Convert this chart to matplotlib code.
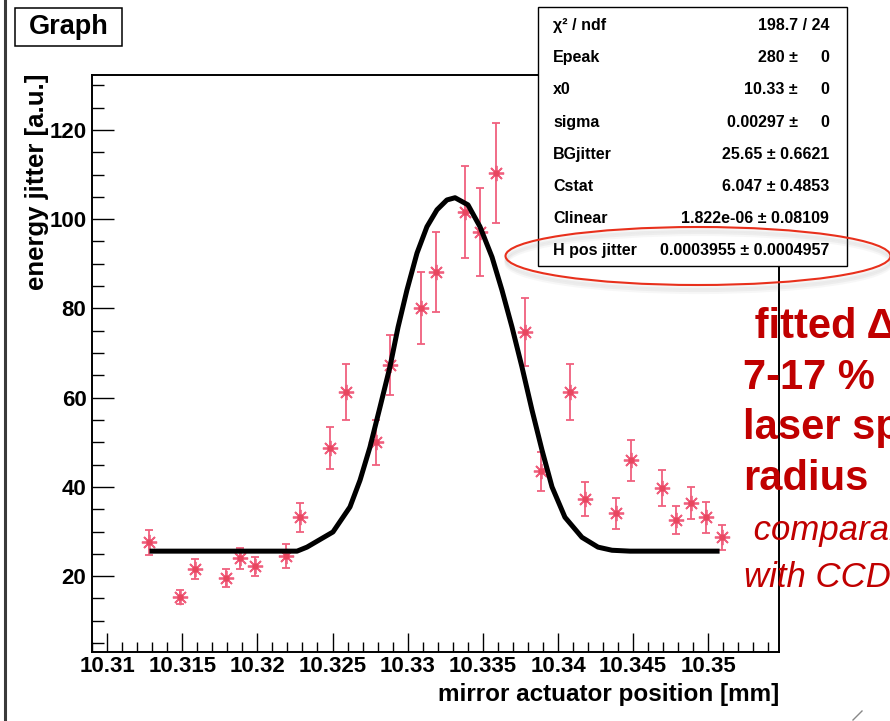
import matplotlib
matplotlib.use("Agg")
import matplotlib.pyplot as plt
from matplotlib.patches import Ellipse, Rectangle
from matplotlib.lines import Line2D
from matplotlib.ticker import FixedLocator, MultipleLocator

plt.rcParams['font.family'] = ['Liberation Sans', 'DejaVu Sans']
plt.rcParams['font.weight'] = 'bold'

# measured points: mirror position [mm], energy jitter [a.u.] and its error
pos_mm = [10.31279, 10.31485, 10.31585, 10.31791, 10.31885, 10.31984, 10.32191,
          10.32284, 10.32483, 10.32590, 10.32789, 10.32882, 10.33089, 10.33188,
          10.33381, 10.33481, 10.33587, 10.33780, 10.33887, 10.34080, 10.34180,
          10.34386, 10.34485, 10.34692, 10.34785, 10.34885, 10.34984, 10.35091]
jitter = [27.6, 15.3, 21.6, 19.6, 24.0, 22.2, 24.5, 33.2, 48.7, 61.3, 50.0, 67.3,
          80.1, 88.2, 101.6, 97.1, 110.4, 74.7, 43.5, 61.3, 37.3, 34.1, 46.0, 39.7,
          32.6, 36.4, 33.2, 28.7]
jitter_err = [2.8, 1.5, 2.3, 2.0, 2.4, 2.2, 2.6, 3.2, 4.7, 6.2, 5.0, 6.7, 8.0, 9.0,
              10.3, 9.8, 11.2, 7.6, 4.4, 6.2, 3.8, 3.5, 4.6, 4.0, 3.2, 3.6, 3.5, 2.8]

# fitted curve
fit_pos = [10.31299, 10.32264, 10.32330, 10.32503, 10.32616, 10.32683, 10.32749,
           10.32816, 10.32882, 10.32936, 10.32995, 10.33062, 10.33128, 10.33195,
           10.33261, 10.33315, 10.33401, 10.33481, 10.33561, 10.33627, 10.33694,
           10.33760, 10.33827, 10.33893, 10.33960, 10.34046, 10.34159, 10.34266,
           10.34359, 10.34479, 10.35058]
fit_jitter = [25.6, 25.6, 26.5, 29.9, 35.5, 41.5, 48.9, 57.9, 66.9, 75.8, 84.1, 92.4,
              98.3, 102.1, 104.3, 104.8, 103.2, 98.3, 91.5, 84.1, 75.8, 66.9, 57.2,
              48.3, 40.0, 33.2, 28.7, 26.5, 25.8, 25.6, 25.6]

x_ticks = [10.31, 10.315, 10.32, 10.325, 10.33, 10.335, 10.34, 10.345, 10.35]

# fit statistics box
stat_names = ['χ² / ndf', 'Epeak', 'x0', 'sigma', 'BGjitter', 'Cstat', 'Clinear', 'H pos jitter']
stat_values = ['198.7 / 24', '280', '10.33', '0.00297', '25.65', '6.047', '1.822e-06', '0.0003955']
stat_errors = [None, '0', '0', '0', '0.6621', '0.4853', '0.08109', '0.0004957']

# slide notes (cut by the right edge, as on the slide)
note_bold = [' fitted Δ', '7-17 %', 'laser spot', 'radius']
note_italic = [' comparable', 'with CCD']

W, H = 890, 721
pink = '#f0607e'
darkred = '#c00000'


def fx(x):
    return x / W


def fy(y):
    return 1 - y / H


fig = plt.figure(figsize=(W / 100, H / 100), dpi=100)
ax = fig.add_axes([fx(92), fy(652), (779 - 92) / W, (652 - 75) / H])

ax.errorbar(pos_mm, jitter, yerr=jitter_err, fmt='none', ecolor=pink,
            elinewidth=1.3, capsize=3.2, capthick=1.3, zorder=2)
ax.plot(pos_mm, jitter, ls='none', marker=(8, 2, 0), ms=11, mew=1.3,
        color=pink, zorder=3)
ax.plot(pos_mm, jitter, ls='none', marker='o', ms=3.5, color='#e8465f', zorder=3)
ax.plot(fit_pos, fit_jitter, color='black', lw=3.6, zorder=4)

ax.set_xlim(10.3090, 10.3547)
ax.set_ylim(3.0, 132.3)
ax.xaxis.set_major_locator(FixedLocator(x_ticks))
ax.xaxis.set_minor_locator(MultipleLocator(0.001))
ax.set_xticklabels([f'{v:g}' for v in x_ticks])
ax.yaxis.set_major_locator(MultipleLocator(20))
ax.yaxis.set_minor_locator(MultipleLocator(5))

ax.tick_params(axis='both', which='both', direction='in', top=False, right=False,
               width=1.0, labelsize=16)
ax.tick_params(axis='y', which='major', length=16, pad=4)
ax.tick_params(axis='y', which='minor', length=8.5)
ax.tick_params(axis='x', which='major', length=13.5, pad=3)
ax.tick_params(axis='x', which='minor', length=7)
for s in ax.spines.values():
    s.set_linewidth(1.4)

fig.text(fx(37), fy(74), 'energy jitter [a.u.]', rotation=90, ha='center', va='top',
         fontsize=18.5, fontweight='bold')
fig.text(fx(779), fy(694), 'mirror actuator position [mm]', ha='right', va='center',
         fontsize=17.5, fontweight='bold')

# title box
fig.add_artist(Rectangle((fx(15), fy(46)), (122 - 15) / W, (46 - 8) / H,
                         transform=fig.transFigure, facecolor='white',
                         edgecolor='black', lw=1.1, zorder=5))
fig.text(fx(68.5), fy(27), 'Graph', ha='center', va='center', fontsize=19.5,
         fontweight='bold', zorder=6)

# stats box
fig.add_artist(Rectangle((fx(538), fy(266)), (847 - 538) / W, (266 - 7) / H,
                         transform=fig.transFigure, facecolor='white',
                         edgecolor='black', lw=1.0, zorder=5))
for i, (name, val, err) in enumerate(zip(stat_names, stat_values, stat_errors)):
    yb = fy(30 + i * 32.2)
    fig.text(fx(553), yb, name, ha='left', va='baseline', fontsize=11.5, zorder=6)
    if err is None:
        fig.text(fx(829), yb, val, ha='right', va='baseline', fontsize=11.5, zorder=6)
    elif err == '0':
        fig.text(fx(798), yb, val + ' ±', ha='right', va='baseline', fontsize=11.5, zorder=6)
        fig.text(fx(829), yb, err, ha='right', va='baseline', fontsize=11.5, zorder=6)
    else:
        fig.text(fx(829), yb, val + ' ± ' + err, ha='right', va='baseline',
                 fontsize=11.5, zorder=6)

# highlight ellipse with soft shadow
for off, a in [(7, 0.06), (5, 0.08), (3, 0.08)]:
    fig.add_artist(Ellipse((fx(699), fy(256 + off)), 385 / W, 58 / H,
                           transform=fig.transFigure, fill=False,
                           edgecolor='grey', lw=3, alpha=a, zorder=7))
fig.add_artist(Ellipse((fx(698), fy(256)), 385 / W, 58 / H, transform=fig.transFigure,
                       fill=False, edgecolor='#e8301c', lw=1.5, zorder=8))

# red notes on the right
for i, line in enumerate(note_bold):
    fig.text(fx(743), fy(338 + i * 50.7), line, ha='left', va='baseline',
             fontsize=30, fontweight='bold', color=darkred, zorder=6)
for i, line in enumerate(note_italic):
    fig.text(fx(744), fy(540 + i * 47), line, ha='left', va='baseline',
             fontsize=25, fontweight='normal', style='italic', color=darkred, zorder=6)

# slide border and resize handle
fig.add_artist(Line2D([fx(5), fx(5)], [0, 1], transform=fig.transFigure,
                      color='#3a3a3a', lw=2.2))
fig.add_artist(Line2D([fx(853), fx(862)], [fy(720), fy(711)], transform=fig.transFigure,
                      color='#888888', lw=1.0))

fig.savefig('out.png', dpi=100)
